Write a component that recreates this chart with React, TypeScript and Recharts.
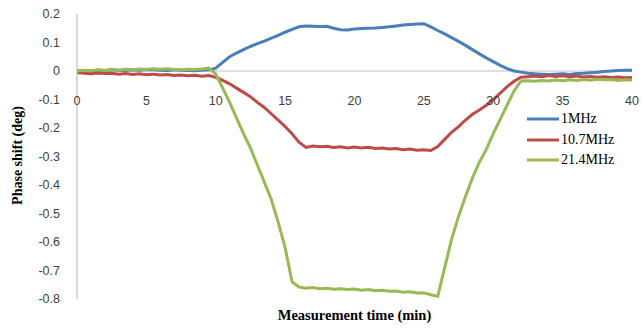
import { LineChart, Line, XAxis, YAxis, ReferenceLine, Legend } from 'recharts'

// time in minutes
const times = [
  0, 0.5, 1, 1.5, 2, 2.5, 3, 3.5, 4, 4.5, 5, 5.5, 6, 6.5, 7, 7.5, 8, 8.5, 9, 9.5,
  10, 10.5, 11, 11.5, 12, 12.5, 13, 13.5, 14, 14.5, 15, 15.5, 16, 16.5, 17, 17.5, 18, 18.5, 19, 19.5,
  20, 20.5, 21, 21.5, 22, 22.5, 23, 23.5, 24, 24.5, 25, 25.5, 26, 26.5, 27, 27.5, 28, 28.5, 29, 29.5,
  30, 30.5, 31, 31.5, 32, 32.5, 33, 33.5, 34, 34.5, 35, 35.5, 36, 36.5, 37, 37.5, 38, 38.5, 39, 39.5,
  40,
]

const mhz1 = [
  0, 0.002, 0.001, 0.003, 0.002, 0.004, 0.003, 0.002, 0.004, 0.003, 0.005, 0.004, 0.003, 0.002, 0.004, 0.003, 0.002, 0.001, 0.003, 0.004,
  0.01, 0.03, 0.05, 0.063, 0.075, 0.086, 0.096, 0.105, 0.115, 0.125, 0.136, 0.146, 0.155, 0.158, 0.157, 0.156, 0.157, 0.15, 0.145, 0.144,
  0.147, 0.149, 0.15, 0.151, 0.153, 0.155, 0.158, 0.161, 0.163, 0.165, 0.166, 0.155, 0.142, 0.13, 0.117, 0.104, 0.09, 0.075, 0.06, 0.046,
  0.033, 0.02, 0.008, 0, -0.004, -0.008, -0.01, -0.011, -0.012, -0.011, -0.01, -0.012, -0.009, -0.008, -0.006, -0.004, -0.002, 0, 0.002, 0.003,
  0.003,
]

const mhz10 = [
  -0.005, -0.008, -0.01, -0.007, -0.009, -0.008, -0.011, -0.009, -0.012, -0.01, -0.013, -0.011, -0.014, -0.012, -0.016, -0.014, -0.017, -0.015, -0.018, -0.016,
  -0.022, -0.033, -0.045, -0.06, -0.075, -0.09, -0.11, -0.128, -0.15, -0.172, -0.195, -0.22, -0.25, -0.268, -0.263, -0.266, -0.264, -0.268, -0.266, -0.27,
  -0.267, -0.27, -0.268, -0.272, -0.27, -0.274, -0.272, -0.276, -0.274, -0.278, -0.276, -0.279, -0.265, -0.24, -0.215, -0.195, -0.172, -0.152, -0.137, -0.12,
  -0.1, -0.078, -0.055, -0.036, -0.022, -0.02, -0.018, -0.02, -0.016, -0.019, -0.017, -0.02, -0.018, -0.021, -0.019, -0.022, -0.02, -0.023, -0.021, -0.024,
  -0.023,
]

const mhz21 = [
  0, 0.003, 0.001, 0.004, 0.002, 0.005, 0.003, 0.006, 0.004, 0.007, 0.005, 0.008, 0.006, 0.008, 0.005, 0.004, 0.006, 0.005, 0.007, 0.01,
  -0.01, -0.06, -0.11, -0.165, -0.22, -0.27, -0.33, -0.39, -0.45, -0.53, -0.62, -0.74, -0.758, -0.762, -0.76, -0.764, -0.762, -0.766, -0.764, -0.767,
  -0.765, -0.769, -0.767, -0.771, -0.769, -0.773, -0.772, -0.776, -0.775, -0.779, -0.778, -0.785, -0.79, -0.69, -0.59, -0.51, -0.44, -0.375, -0.32, -0.275,
  -0.22, -0.17, -0.12, -0.07, -0.035, -0.034, -0.036, -0.033, -0.035, -0.032, -0.034, -0.031, -0.033, -0.03, -0.032, -0.029, -0.031, -0.03, -0.033, -0.031,
  -0.032,
]

const seriesNames = ['1MHz', '10.7MHz', '21.4MHz']
const xTicks = [0, 5, 10, 15, 20, 25, 30, 35, 40]
const yTicks = [0.2, 0.1, 0, -0.1, -0.2, -0.3, -0.4, -0.5, -0.6, -0.7, -0.8]

const data = times.map((t, i) => ({ t, a: mhz1[i], b: mhz10[i], c: mhz21[i] }))

const W = 643
const H = 329
const TOP = 14
const X_AXIS_H = 30
const Y_MIN = -0.8
const Y_MAX = 0.2
const PLOT_H = H - TOP - X_AXIS_H
const ZERO_Y = TOP + (PLOT_H * Y_MAX) / (Y_MAX - Y_MIN)

const tickFont = '"Liberation Sans", Arial, sans-serif'
const serif = '"Liberation Serif", "Times New Roman", serif'

// x tick labels sit just under the zero line, not at the bottom
const XTick = (props: any) => {
  const { x, payload } = props
  return (
    <text x={x} y={ZERO_Y + 34} textAnchor="middle" fontFamily={tickFont} fontSize={12.5} fill="#404040">
      {payload.value}
    </text>
  )
}

const YTitle = (props: any) => {
  const vb = props.viewBox
  const cx = 17
  const cy = vb.y + vb.height / 2 - 1
  return (
    <text
      x={cx}
      y={cy}
      transform={`rotate(-90, ${cx}, ${cy})`}
      textAnchor="middle"
      dominantBaseline="central"
      fontFamily={serif}
      fontWeight="bold"
      fontSize={14}
      fill="#000"
    >
      Phase shift (deg)
    </text>
  )
}

const renderLegend = (props: any) => {
  const items = [...props.payload].sort(
    (a: any, b: any) => seriesNames.indexOf(a.value) - seriesNames.indexOf(b.value)
  )
  return (
    <div style={{ fontFamily: serif, fontSize: 14, color: '#000' }}>
      {items.map((p: any) => (
        <div key={p.value} style={{ display: 'flex', alignItems: 'center', height: 20.5 }}>
          <svg width={32} height={6} style={{ marginRight: 2 }}>
            <line x1={0} y1={3} x2={32} y2={3} stroke={p.color} strokeWidth={3} />
          </svg>
          <span>{p.value}</span>
        </div>
      ))}
    </div>
  )
}

export default function App() {
  return (
    <div style={{ position: 'absolute', left: 0, top: 0, background: '#fff' }}>
      <LineChart width={W} height={H} data={data} margin={{ top: TOP, right: 11, left: 0, bottom: 0 }}>
        <XAxis
          dataKey="t"
          type="number"
          domain={[0, 40]}
          ticks={xTicks}
          height={X_AXIS_H}
          axisLine={false}
          tickLine={false}
          tick={<XTick />}
          label={{
            value: 'Measurement time (min)',
            position: 'insideBottom',
            offset: 9,
            style: { fontFamily: serif, fontWeight: 'bold', fontSize: 14.5, fill: '#000' },
          }}
        />
        <YAxis
          type="number"
          domain={[Y_MIN, Y_MAX]}
          ticks={yTicks}
          width={77}
          interval={0}
          axisLine={{ stroke: '#b3b3b3', strokeWidth: 1 }}
          tickLine={false}
          tickSize={0}
          tickMargin={17}
          tick={{ fontFamily: tickFont, fontSize: 12.5, fill: '#404040' }}
          label={<YTitle />}
        />
        <ReferenceLine y={0} stroke="#c0c0c0" strokeWidth={1} />
        <Legend
          layout="vertical"
          align="center"
          verticalAlign="middle"
          content={renderLegend}
          wrapperStyle={{ left: 527, top: 109, width: 'auto' }}
        />
        <Line dataKey="a" name={seriesNames[0]} stroke="#4a7ebb" strokeWidth={3} dot={false} isAnimationActive={false} />
        <Line dataKey="b" name={seriesNames[1]} stroke="#be4b48" strokeWidth={3} dot={false} isAnimationActive={false} />
        <Line dataKey="c" name={seriesNames[2]} stroke="#98b954" strokeWidth={3} dot={false} isAnimationActive={false} />
      </LineChart>
    </div>
  )
}
